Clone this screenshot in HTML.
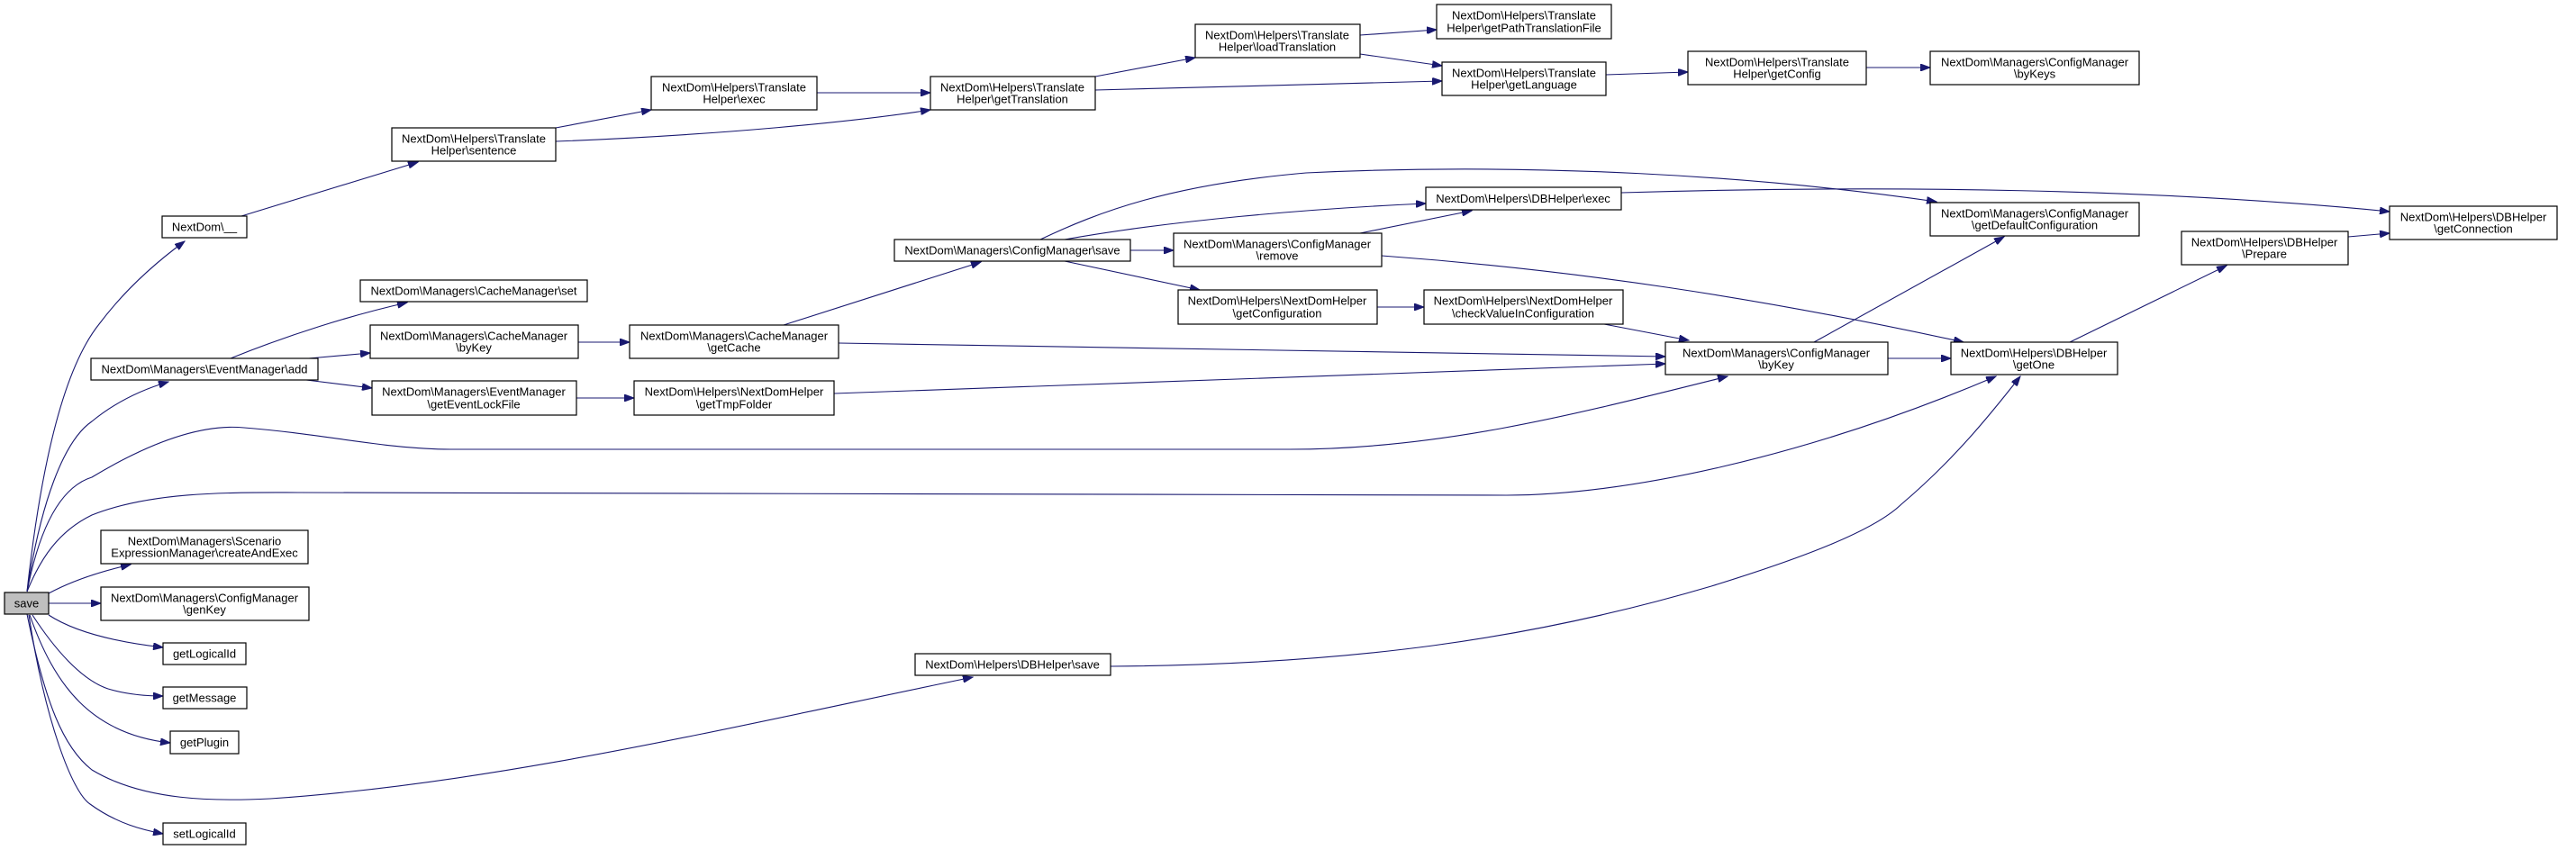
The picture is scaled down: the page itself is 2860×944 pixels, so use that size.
<!DOCTYPE html>
<html><head><meta charset="utf-8"><style>
html,body{margin:0;padding:0;background:#fff;}
svg{display:block;}
text{font-family:"Liberation Sans",Arial,sans-serif;font-size:13px;fill:#000;text-anchor:middle;dominant-baseline:central;}
rect{fill:#fff;stroke:#000;stroke-width:1.2;}
path{fill:none;stroke:#191970;stroke-width:1.1;}
</style></head><body>
<svg width="2860" height="944" viewBox="0 0 2860 944" xmlns="http://www.w3.org/2000/svg">
<defs><marker id="a" markerWidth="12" markerHeight="8" refX="11" refY="4" orient="auto" markerUnits="userSpaceOnUse"><path d="M0,0 L11,4 L0,8 Z" style="fill:#191970;stroke:#191970;stroke-width:1"/></marker></defs>
<g marker-end="url(#a)">
<path d="M30,657 C45,520 70,410 110,360 C140,320 175,290 205,268"/>
<path d="M30,657 C45,560 70,490 102,468 C130,445 160,432 187,424"/>
<path d="M30,657 C45,580 70,540 102,530 C160,495 220,470 271,475 C360,482 430,499 500,499 L1432,499 C1600,499 1750,460 1918,418"/>
<path d="M30,657 C45,620 65,590 102,572 C170,545 260,547 331,547 L1673,550 C1800,550 2000,510 2216,418"/>
<path d="M30,682 C50,780 70,830 102,855 C160,890 240,890 300,887 C550,870 800,810 1080,752"/>
<path d="M54,659 C80,645 110,635 145,627"/>
<path d="M54,670 L112,670"/>
<path d="M54,683 C80,700 120,712 181,719"/>
<path d="M36,683 C60,720 90,755 120,765 C140,771 160,773 181,773"/>
<path d="M33,683 C60,760 100,815 189,825"/>
<path d="M32,683 C50,800 80,880 100,893 C130,915 160,922 181,926"/>
<path d="M268,240 L464,180"/>
<path d="M617,142 L723,122"/>
<path d="M617,157 C800,150 950,135 1033,122"/>
<path d="M907,103 L1033,103"/>
<path d="M1216,85 L1327,64"/>
<path d="M1216,100 L1601,90"/>
<path d="M1510,39 L1595,33"/>
<path d="M1510,60 L1601,73"/>
<path d="M1783,83 L1874,80"/>
<path d="M2072,75 L2143,75"/>
<path d="M256,398 C320,372 390,350 452,336"/>
<path d="M343,398 L411,392"/>
<path d="M340,422 L413,431"/>
<path d="M642,380 L699,380"/>
<path d="M640,442 L704,442"/>
<path d="M870,361 L1089,291"/>
<path d="M931,381 L1849,396"/>
<path d="M926,437 L1849,404"/>
<path d="M1255,278 L1303,278"/>
<path d="M1182,266 C1300,245 1450,232 1583,226"/>
<path d="M1155,266 C1220,235 1300,205 1450,192 C1700,180 1950,195 2150,224"/>
<path d="M1182,290 L1332,322"/>
<path d="M1510,259 L1634,234"/>
<path d="M1534,284 C1750,300 1950,330 2180,380"/>
<path d="M1529,341 L1581,341"/>
<path d="M1781,360 L1875,378"/>
<path d="M1800,214 C2100,205 2400,210 2653,235"/>
<path d="M2014,380 L2225,263"/>
<path d="M2096,398 L2166,398"/>
<path d="M2298,380 L2472,295"/>
<path d="M2607,263 L2653,259"/>
<path d="M1233,740 C1500,738 1700,710 1900,651 C2000,620 2080,590 2111,560 C2170,510 2210,460 2243,418"/>
</g>
<rect x="5" y="658" width="49" height="24" style="fill:#bfbfbf"/><text x="29.5" y="670">save</text>
<rect x="180" y="240" width="94" height="24"/><text x="227" y="252">NextDom\__</text>
<rect x="435" y="142" width="182" height="37"/><text x="526" y="154">NextDom\Helpers\Translate</text><text x="526" y="167">Helper\sentence</text>
<rect x="723" y="85" width="184" height="37"/><text x="815" y="97">NextDom\Helpers\Translate</text><text x="815" y="110">Helper\exec</text>
<rect x="1033" y="85" width="183" height="37"/><text x="1124" y="97">NextDom\Helpers\Translate</text><text x="1124" y="110">Helper\getTranslation</text>
<rect x="1327" y="27" width="183" height="37"/><text x="1418" y="39">NextDom\Helpers\Translate</text><text x="1418" y="52">Helper\loadTranslation</text>
<rect x="1595" y="5" width="194" height="38"/><text x="1692" y="17">NextDom\Helpers\Translate</text><text x="1692" y="31">Helper\getPathTranslationFile</text>
<rect x="1601" y="69" width="182" height="37"/><text x="1692" y="81">NextDom\Helpers\Translate</text><text x="1692" y="94">Helper\getLanguage</text>
<rect x="1874" y="57" width="198" height="37"/><text x="1973" y="69">NextDom\Helpers\Translate</text><text x="1973" y="82">Helper\getConfig</text>
<rect x="2143" y="57" width="232" height="37"/><text x="2259" y="69">NextDom\Managers\ConfigManager</text><text x="2259" y="82">\byKeys</text>
<rect x="400" y="311" width="252" height="24"/><text x="526" y="323">NextDom\Managers\CacheManager\set</text>
<rect x="101" y="398" width="252" height="24"/><text x="227" y="410">NextDom\Managers\EventManager\add</text>
<rect x="411" y="361" width="231" height="37"/><text x="526" y="373">NextDom\Managers\CacheManager</text><text x="526" y="386">\byKey</text>
<rect x="699" y="361" width="232" height="37"/><text x="815" y="373">NextDom\Managers\CacheManager</text><text x="815" y="386">\getCache</text>
<rect x="413" y="423" width="227" height="38"/><text x="526" y="435">NextDom\Managers\EventManager</text><text x="526" y="449">\getEventLockFile</text>
<rect x="704" y="423" width="222" height="38"/><text x="815" y="435">NextDom\Helpers\NextDomHelper</text><text x="815" y="449">\getTmpFolder</text>
<rect x="993" y="266" width="262" height="24"/><text x="1124" y="278">NextDom\Managers\ConfigManager\save</text>
<rect x="1303" y="259" width="231" height="37"/><text x="1418" y="271">NextDom\Managers\ConfigManager</text><text x="1418" y="284">\remove</text>
<rect x="1583" y="208" width="217" height="25"/><text x="1691" y="220.5">NextDom\Helpers\DBHelper\exec</text>
<rect x="1308" y="322" width="221" height="38"/><text x="1418" y="334">NextDom\Helpers\NextDomHelper</text><text x="1418" y="348">\getConfiguration</text>
<rect x="1581" y="322" width="221" height="38"/><text x="1691" y="334">NextDom\Helpers\NextDomHelper</text><text x="1691" y="348">\checkValueInConfiguration</text>
<rect x="1849" y="380" width="247" height="36"/><text x="1972" y="392">NextDom\Managers\ConfigManager</text><text x="1972" y="405">\byKey</text>
<rect x="2143" y="225" width="232" height="37"/><text x="2259" y="237">NextDom\Managers\ConfigManager</text><text x="2259" y="250">\getDefaultConfiguration</text>
<rect x="2166" y="380" width="185" height="36"/><text x="2258" y="392">NextDom\Helpers\DBHelper</text><text x="2258" y="405">\getOne</text>
<rect x="2422" y="257" width="185" height="37"/><text x="2514" y="269">NextDom\Helpers\DBHelper</text><text x="2514" y="282">\Prepare</text>
<rect x="2653" y="229" width="186" height="37"/><text x="2746" y="241">NextDom\Helpers\DBHelper</text><text x="2746" y="254">\getConnection</text>
<rect x="112" y="589" width="230" height="37"/><text x="227" y="601">NextDom\Managers\Scenario</text><text x="227" y="614">ExpressionManager\createAndExec</text>
<rect x="112" y="652" width="231" height="37"/><text x="227" y="664">NextDom\Managers\ConfigManager</text><text x="227" y="677">\genKey</text>
<rect x="181" y="714" width="92" height="24"/><text x="227" y="726">getLogicalId</text>
<rect x="181" y="763" width="93" height="24"/><text x="227" y="775">getMessage</text>
<rect x="189" y="812" width="76" height="25"/><text x="227" y="824.5">getPlugin</text>
<rect x="1016" y="726" width="217" height="24"/><text x="1124" y="738">NextDom\Helpers\DBHelper\save</text>
<rect x="181" y="914" width="92" height="24"/><text x="227" y="926">setLogicalId</text>
</svg>
</body></html>
